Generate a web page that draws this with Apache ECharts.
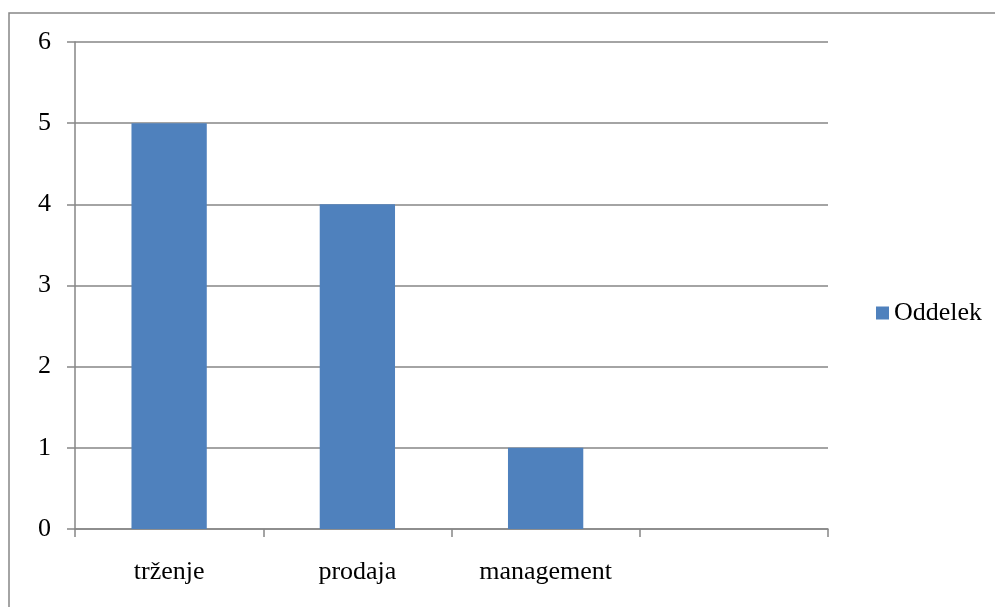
<!DOCTYPE html>
<html>
<head>
<meta charset="utf-8">
<script src="https://cdn.jsdelivr.net/npm/echarts@6/dist/echarts.min.js"></script>
<style>
  html, body { margin: 0; padding: 0; background: #fff; }
  #chart { width: 995px; height: 607px; }
</style>
</head>
<body>
<div id="chart"></div>
<script>
// Staff count per department
const categories = ['trženje', 'prodaja', 'management', ''];
const oddelek = [5, 4, 1, '-'];
const yTicks = { min: 0, max: 6, interval: 1 };

const serif = '"Liberation Serif", "Times New Roman", serif';
const gridColor = '#868686';

const chart = echarts.init(document.getElementById('chart'));
chart.setOption({
  animation: false,
  backgroundColor: '#fff',
  graphic: [{
    type: 'rect',
    shape: { x: 9, y: 13, width: 1000, height: 700 },
    style: { fill: 'none', stroke: gridColor, lineWidth: 1.5 },
    silent: true
  }],
  grid: { left: 75, right: 167, top: 42, bottom: 78 },
  legend: {
    left: 871, top: 295,
    icon: 'rect', itemWidth: 13, itemHeight: 13, itemGap: 6,
    textStyle: { fontFamily: serif, fontSize: 26, color: '#000' },
    data: ['Oddelek']
  },
  xAxis: {
    type: 'category',
    data: categories,
    axisLine: { lineStyle: { color: gridColor, width: 1.5 } },
    axisTick: { show: true, length: 8, lineStyle: { color: gridColor, width: 1.5 } },
    axisLabel: { fontFamily: serif, fontSize: 26, color: '#000', margin: 30, interval: 0 },
    splitLine: { show: false }
  },
  yAxis: {
    type: 'value',
    min: yTicks.min, max: yTicks.max, interval: yTicks.interval,
    axisLine: { show: true, lineStyle: { color: gridColor, width: 1.5 } },
    axisTick: { show: true, length: 8, lineStyle: { color: gridColor, width: 1.5 } },
    axisLabel: { fontFamily: serif, fontSize: 26, color: '#000', margin: 24 },
    splitLine: { show: true, lineStyle: { color: gridColor, width: 1.5 } }
  },
  series: [{
    name: 'Oddelek',
    type: 'bar',
    data: oddelek,
    barCategoryGap: '60%',
    itemStyle: { color: '#4F81BD' }
  }]
});
</script>
</body>
</html>
